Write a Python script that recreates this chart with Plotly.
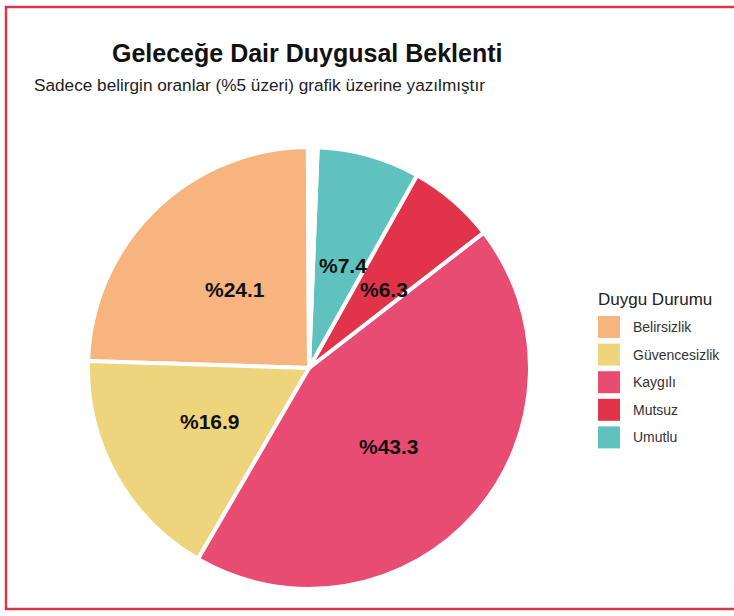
import math
import plotly.graph_objects as go

# ---- data ----
categories = ["Belirsizlik", "Güvencesizlik", "Kaygılı", "Mutsuz", "Umutlu"]
values = [24.1, 16.9, 43.3, 6.3, 7.4]
colors = ["#F8B47E", "#EED57D", "#E94C73", "#E1344A", "#60C2BF"]
# small empty wedge visible at 12 o'clock (unlabelled remainder)
gap_value = 0.7
label_threshold = 5
title_text = "Geleceğe Dair Duygusal Beklenti"
subtitle_text = "Sadece belirgin oranlar (%5 üzeri) grafik üzerine yazılmıştır"
legend_title = "Duygu Durumu"

# ---- layout geometry (pixels) ----
W, H = 734, 616
cx, cy, R = 309, 368, 221
ROT_OFFSET_DEG = 1.8  # whole pie turned slightly clockwise
FONT = "Liberation Sans, Arial, sans-serif"


def px(x):
    return x / W


def py(y):
    return 1 - y / H


fig = go.Figure(
    go.Pie(
        labels=categories + [""],
        values=values + [gap_value],
        sort=False,
        direction="counterclockwise",
        rotation=-90 + ROT_OFFSET_DEG,
        marker=dict(colors=colors + ["rgba(255,255,255,0)"], line=dict(color="white", width=4)),
        textinfo="none",
        hoverinfo="label+percent",
        showlegend=False,
        domain=dict(x=[px(cx - R), px(cx + R)], y=[py(cy + R), py(cy - R)]),
    )
)

annotations = []
# slice labels at half radius, mid-angle of each slice (counterclockwise from 12 o'clock)
total = sum(values) + gap_value
cum = 0.0
for cat, v in zip(categories, values):
    mid = (cum + v / 2) / total * 2 * math.pi - math.radians(ROT_OFFSET_DEG)
    cum += v
    if v <= label_threshold:
        continue
    rl = 0.5 * R
    x = cx - rl * math.sin(mid)
    y = cy - rl * math.cos(mid)
    annotations.append(dict(
        x=px(x), y=py(y), xref="paper", yref="paper", showarrow=False, yshift=-3,
        text=f"<b>%{v:.1f}</b>", font=dict(family=FONT, size=21, color="#111111"),
        xanchor="center", yanchor="middle"))

# title and subtitle
annotations.append(dict(x=px(307), y=py(53), xref="paper", yref="paper", showarrow=False,
                        text=f"<b>{title_text}</b>", font=dict(family=FONT, size=25, color="#111111"),
                        xanchor="center", yanchor="middle"))
annotations.append(dict(x=px(32), y=py(85), xref="paper", yref="paper", showarrow=False,
                        text=subtitle_text, font=dict(family=FONT, size=17.2, color="#222222"),
                        xanchor="left", yanchor="middle"))

# custom legend
shapes = []
annotations.append(dict(x=px(596), y=py(299), xref="paper", yref="paper", showarrow=False,
                        text=legend_title, font=dict(family=FONT, size=17, color="#222222"),
                        xanchor="left", yanchor="middle"))
for i, (cat, col) in enumerate(zip(categories, colors)):
    yc = 327 + 27.6 * i
    shapes.append(dict(type="rect", xref="paper", yref="paper",
                       x0=px(598), x1=px(620), y0=py(yc + 11), y1=py(yc - 11),
                       fillcolor=col, line=dict(width=0)))
    annotations.append(dict(x=px(631), y=py(yc), xref="paper", yref="paper", showarrow=False,
                            text=cat, font=dict(family=FONT, size=14, color="#333333"),
                            xanchor="left", yanchor="middle"))

# outer red frame
shapes.append(dict(type="rect", xref="paper", yref="paper",
                   x0=px(6), x1=px(745), y0=py(609), y1=py(7),
                   line=dict(color="#D23A4C", width=2.5), fillcolor="rgba(0,0,0,0)"))

fig.update_layout(
    width=W, height=H,
    margin=dict(l=0, r=0, t=0, b=0),
    paper_bgcolor="white", plot_bgcolor="white",
    annotations=annotations, shapes=shapes,
    showlegend=False,
)

fig.write_html("out.html", config={"displayModeBar": False},
               post_script="document.body.style.margin='0';document.body.style.overflow='hidden';")
